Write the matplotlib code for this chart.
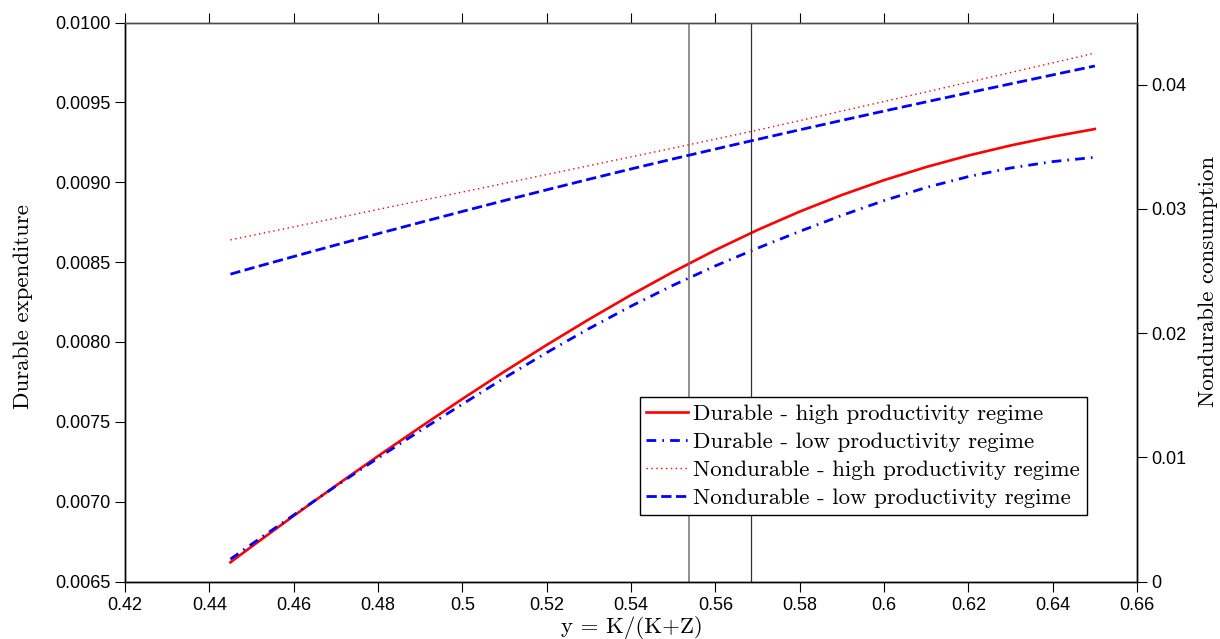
import matplotlib
matplotlib.use('Agg')
import matplotlib.pyplot as plt
import numpy as np

# state grid y = K/(K+Z)
y_grid = [0.445, 0.45, 0.46, 0.47, 0.48, 0.49, 0.50, 0.51, 0.52, 0.53, 0.54,
          0.55, 0.56, 0.57, 0.58, 0.59, 0.60, 0.61, 0.62, 0.63, 0.64, 0.65]

# durable expenditure (left axis)
durable_high = [0.006620, 0.006718, 0.006911, 0.007100, 0.007285, 0.007466,
                0.007643, 0.007815, 0.007981, 0.008141, 0.008294, 0.008439,
                0.008575, 0.008701, 0.008816, 0.008920, 0.009013, 0.009095,
                0.009167, 0.009230, 0.009285, 0.009333]
durable_low = [0.006640, 0.006733, 0.006916, 0.007097, 0.007273, 0.007444,
               0.007610, 0.007775, 0.007933, 0.008083, 0.008224, 0.008355,
               0.008476, 0.008587, 0.008692, 0.008792, 0.008885, 0.008967,
               0.009035, 0.009089, 0.009129, 0.009156]

# nondurable consumption (right axis)
nondur_high = [0.02750, 0.02785, 0.02855, 0.02925, 0.02995, 0.03065, 0.03135,
               0.03205, 0.03276, 0.03347, 0.03418, 0.03489, 0.03561, 0.03634,
               0.03710, 0.03787, 0.03864, 0.03941, 0.04019, 0.04097, 0.04175,
               0.04254]
nondur_low = [0.02474, 0.02522, 0.02616, 0.02709, 0.02800, 0.02890, 0.02979,
              0.03067, 0.03153, 0.03238, 0.03321, 0.03402, 0.03481, 0.03559,
              0.03636, 0.03712, 0.03787, 0.03861, 0.03934, 0.04006, 0.04078,
              0.04150]

# regime thresholds
thresholds = [0.5538, 0.5685]

x_ticks = [0.42, 0.44, 0.46, 0.48, 0.5, 0.52, 0.54, 0.56, 0.58, 0.6, 0.62, 0.64, 0.66]
left_ticks = [0.0065, 0.0070, 0.0075, 0.0080, 0.0085, 0.0090, 0.0095, 0.0100]
right_ticks = [0, 0.01, 0.02, 0.03, 0.04]

serif = ['cmr10', 'DejaVu Serif']
plt.rcParams['font.family'] = ['Liberation Sans', 'DejaVu Sans']
plt.rcParams['axes.unicode_minus'] = False

fig = plt.figure(figsize=(12.2, 6.39), dpi=100)
ax = fig.add_axes([125/1220, (639-581.5)/639, 1012/1220, 559/639])
ax2 = ax.twinx()

l1, = ax.plot(y_grid, durable_high, color='#ff0000', lw=1.9, label='Durable - high productivity regime')
l2, = ax.plot(y_grid, durable_low, color='#0000ff', lw=2, linestyle=(0, (3.5, 2.2, 0.6, 2.2)),
              label='Durable - low productivity regime')
l3, = ax2.plot(y_grid, nondur_high, color='#ff0000', lw=1.0, linestyle=(0, (1, 2.5)),
               label='Nondurable - high productivity regime')
l4, = ax2.plot(y_grid, nondur_low, color='#0000ff', lw=2, linestyle='--',
               label='Nondurable - low productivity regime')

ax.axvline(thresholds[0], color='0.45', lw=1.1)
ax.axvline(thresholds[1], color='0.2', lw=0.9)

ax.set_xlim(0.42, 0.66)
ax.set_ylim(0.0065, 0.0100)
ax2.set_ylim(0, 0.045)

ax.set_xticks(x_ticks)
ax.set_xticklabels([('%g' % t) for t in x_ticks])
ax.set_yticks(left_ticks)
ax.set_yticklabels(['%.4f' % t for t in left_ticks])
ax2.set_yticks(right_ticks)
ax2.set_yticklabels([('%g' % t) for t in right_ticks])

ax.tick_params(axis='x', which='both', top=True, direction='out', length=7, width=0.8,
               pad=4, labelsize=13)
ax.tick_params(axis='y', direction='out', length=7, width=0.8, pad=3.5, labelsize=13)
ax2.tick_params(axis='y', direction='out', length=7, width=0.8, pad=3.5, labelsize=13)

for a in (ax, ax2):
    for s in a.spines.values():
        s.set_linewidth(1.0)
        s.set_color('black')
ax.spines['top'].set_color('0.3')
ax2.spines['top'].set_color('0.3')

ax.set_xlabel('y = K/(K+Z)', family=serif, fontsize=16.5)
ax.xaxis.set_label_coords(0.501, -0.062)
ax.set_ylabel('Durable expenditure', family=serif, fontsize=16.5)
ax.yaxis.set_label_coords(-0.091, 0.492)
ax2.set_ylabel('Nondurable consumption', family=serif, fontsize=16.5)
ax2.yaxis.set_label_coords(1.061, 0.537)

leg = ax2.legend(handles=[l1, l2, l3, l4], loc='lower right',
                 bbox_to_anchor=(0.9506, 0.119), prop={'family': serif, 'size': 16.5},
                 fancybox=False, framealpha=1, edgecolor='black', handlelength=1.8,
                 handletextpad=0.25, labelspacing=0.35, borderpad=0.3, borderaxespad=0)
leg.get_frame().set_linewidth(1.0)

fig.savefig('out.png', dpi=100)
